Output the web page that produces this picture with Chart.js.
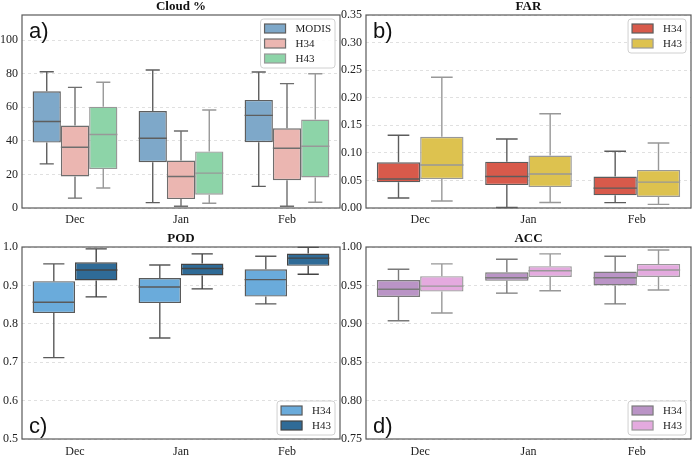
<!DOCTYPE html>
<html>
<head>
<meta charset="utf-8">
<script src="https://cdn.jsdelivr.net/npm/chart.js@4.4.1/dist/chart.umd.min.js"></script>
<style>
    body { margin: 0; background: #fff; width: 694px; height: 456px; position: relative; overflow: hidden; }
    canvas { position: absolute; }
</style>
</head>
<body>
<canvas id="chartCloud" width="344" height="228" style="left:0;top:0"></canvas>
<canvas id="chartFar" width="358" height="228" style="left:336px;top:0"></canvas>
<canvas id="chartPod" width="344" height="228" style="left:0;top:228px"></canvas>
<canvas id="chartAcc" width="358" height="228" style="left:336px;top:228px"></canvas>
<script>
// mesice na ose x
const months = ['Dec', 'Jan', 'Feb'];

// kazdy box: [dolni whisker, Q1, median, Q3, horni whisker] pro Dec, Jan, Feb
const cloudModis = [[26.3, 39.0, 51.5, 69.5, 81.2], [3.2, 27.3, 41.6, 57.8, 82.2], [12.9, 39.2, 55.2, 64.4, 81.0]];
const cloudH34 = [[5.9, 18.8, 36.2, 49.1, 71.9], [1.0, 5.3, 18.8, 28.3, 45.9], [1.0, 16.6, 35.6, 47.5, 74.1]];
const cloudH43 = [[11.9, 23.2, 43.8, 60.4, 74.9], [2.8, 7.9, 20.8, 33.7, 58.4], [3.4, 18.2, 36.8, 52.7, 80.0]];

const farH34 = [[0.018, 0.0465, 0.0525, 0.083, 0.132], [0.001, 0.0416, 0.057, 0.084, 0.125], [0.0097, 0.023, 0.036, 0.057, 0.103]];
const farH43 = [[0.0127, 0.0525, 0.078, 0.129, 0.237], [0.010, 0.038, 0.0616, 0.095, 0.171], [0.0066, 0.020, 0.047, 0.069, 0.118]];

const podH34 = [[0.712, 0.828, 0.856, 0.911, 0.956], [0.763, 0.854, 0.896, 0.919, 0.953], [0.852, 0.871, 0.915, 0.942, 0.976]];
const podH43 = [[0.870, 0.913, 0.940, 0.960, 0.995], [0.891, 0.926, 0.944, 0.957, 0.982], [0.929, 0.951, 0.971, 0.983, 0.999]];

const accH34 = [[0.904, 0.935, 0.945, 0.957, 0.971], [0.940, 0.956, 0.960, 0.967, 0.984], [0.926, 0.950, 0.960, 0.968, 0.988]];
const accH43 = [[0.914, 0.942, 0.949, 0.962, 0.978], [0.943, 0.961, 0.969, 0.975, 0.991], [0.944, 0.961, 0.970, 0.978, 0.996]];

// popisky na ose y
const cloudTicks = ['0', '20', '40', '60', '80', '100'];
const farTicks = ['0.00', '0.05', '0.10', '0.15', '0.20', '0.25', '0.30', '0.35'];
const podTicks = ['0.5', '0.6', '0.7', '0.8', '0.9', '1.0'];
const accTicks = ['0.75', '0.80', '0.85', '0.90', '0.95', '1.00'];

const SERIF = '"Liberation Serif", "Times New Roman", serif';

// Plugin, ktery dokresli whiskery a median ke kazdemu boxu (box samotny je plovouci bar)
const boxPlugin = {
    id: 'boxWhiskers',
    afterDatasetsDraw(chart) {
        const ctx = chart.ctx;
        const y = chart.scales.y;
        chart.data.datasets.forEach((ds, i) => {
            const meta = chart.getDatasetMeta(i);
            meta.data.forEach((bar, j) => {
                const s = ds.stats[j];
                const half = bar.width / 2;
                const cap = bar.width / 4;
                ctx.save();
                ctx.strokeStyle = ds.borderColor;
                ctx.lineWidth = 1.4;
                ctx.beginPath();
                // spodni whisker
                ctx.moveTo(bar.x, y.getPixelForValue(s[1]));
                ctx.lineTo(bar.x, y.getPixelForValue(s[0]));
                ctx.moveTo(bar.x - cap, y.getPixelForValue(s[0]));
                ctx.lineTo(bar.x + cap, y.getPixelForValue(s[0]));
                // horni whisker
                ctx.moveTo(bar.x, y.getPixelForValue(s[3]));
                ctx.lineTo(bar.x, y.getPixelForValue(s[4]));
                ctx.moveTo(bar.x - cap, y.getPixelForValue(s[4]));
                ctx.lineTo(bar.x + cap, y.getPixelForValue(s[4]));
                // median
                ctx.moveTo(bar.x - half, y.getPixelForValue(s[2]));
                ctx.lineTo(bar.x + half, y.getPixelForValue(s[2]));
                ctx.stroke();
                ctx.restore();
            });
        });
    }
};

// Plugin pro ramecek, titulek, oznaceni panelu a legendu uvnitr grafu
const panelPlugin = {
    id: 'panel',
    afterDraw(chart, args, opts) {
        const ctx = chart.ctx;
        const ca = chart.chartArea;
        ctx.save();

        // ramecek kolem plochy grafu
        ctx.strokeStyle = '#5a5a5a';
        ctx.lineWidth = 1.2;
        ctx.strokeRect(ca.left, ca.top, ca.right - ca.left, ca.bottom - ca.top);

        // titulek
        ctx.fillStyle = '#111';
        ctx.font = 'bold 13px ' + SERIF;
        ctx.textAlign = 'center';
        ctx.textBaseline = 'middle';
        ctx.fillText(opts.title, (ca.left + ca.right) / 2, ca.top - 8);

        // oznaceni panelu a), b) ...
        ctx.font = '22px "Liberation Sans", Arial, sans-serif';
        ctx.textAlign = 'left';
        ctx.textBaseline = 'alphabetic';
        ctx.fillText(opts.tag, ca.left + 7, opts.bottom ? ca.bottom - 6 : ca.top + 23);

        // legenda
        const sets = chart.data.datasets;
        ctx.font = '11px ' + SERIF;
        let tw = 0;
        sets.forEach(ds => { tw = Math.max(tw, ctx.measureText(ds.label).width); });
        const w = 4 + 21 + 10 + tw + 4;
        const h = sets.length * 15 + 4;
        const right = ca.right - 5;
        const top = opts.bottom ? ca.bottom - 4 - h : ca.top + 4;
        const left = right - w;

        ctx.beginPath();
        ctx.roundRect(left, top, w, h, 3);
        ctx.fillStyle = 'rgba(255,255,255,0.85)';
        ctx.fill();
        ctx.strokeStyle = '#d0d0d0';
        ctx.lineWidth = 1;
        ctx.stroke();

        sets.forEach((ds, i) => {
            const cy = top + 9.5 + i * 15;
            ctx.fillStyle = ds.backgroundColor;
            ctx.fillRect(left + 4, cy - 4.5, 21, 9);
            ctx.strokeStyle = ds.borderColor;
            ctx.lineWidth = 1.2;
            ctx.strokeRect(left + 4, cy - 4.5, 21, 9);
            ctx.fillStyle = '#222';
            ctx.textBaseline = 'middle';
            ctx.fillText(ds.label, left + 35, cy + 0.5);
        });

        ctx.restore();
    }
};

function CreateBoxChart(canvasId, cfg) {
    let datasets = cfg.series.map(serie => ({
        label: serie.label,
        data: serie.stats.map(s => [s[1], s[3]]), // box od Q1 do Q3
        stats: serie.stats,
        backgroundColor: serie.color,
        borderColor: serie.edge,
        borderWidth: 1.4,
        borderSkipped: false,
        categoryPercentage: 0.8,
        barPercentage: 1.0
    }));

    let tickValues = cfg.ticks.map(Number);

    return new Chart(document.getElementById(canvasId), {
        type: 'bar',
        data: { labels: months, datasets: datasets },
        plugins: [boxPlugin, panelPlugin],
        options: {
            responsive: false,
            animation: false,
            layout: { padding: { top: cfg.padTop, right: cfg.padRight, left: 0, bottom: 0 } },
            plugins: {
                legend: { display: false },
                tooltip: { enabled: false },
                panel: { title: cfg.title, tag: cfg.tag, bottom: cfg.legendBottom }
            },
            scales: {
                x: {
                    grid: { display: false, drawTicks: false },
                    border: { display: false },
                    ticks: { color: '#222', font: { family: SERIF, size: 12 }, padding: cfg.xPad },
                    afterFit: s => { s.height = cfg.xHeight; }
                },
                y: {
                    min: cfg.min,
                    max: cfg.max,
                    border: { display: false, dash: [3, 3] },
                    grid: { color: '#d9d9d9', lineWidth: 0.8, drawTicks: false },
                    ticks: {
                        color: '#222',
                        font: { family: SERIF, size: 12 },
                        padding: 4,
                        callback: (v, i) => cfg.ticks[i]
                    },
                    afterBuildTicks: s => { s.ticks = tickValues.map(v => ({ value: v })); },
                    afterFit: s => { s.width = cfg.yWidth; }
                }
            }
        }
    });
}

CreateBoxChart('chartCloud', {
    title: 'Cloud %', tag: 'a)', legendBottom: false,
    min: 0, max: 115, ticks: cloudTicks,
    padTop: 15, padRight: 4, xHeight: 20, xPad: 5, yWidth: 22,
    series: [
        { label: 'MODIS', stats: cloudModis, color: '#7ea8c9', edge: '#5e5e5e' },
        { label: 'H34', stats: cloudH34, color: '#ebb6b1', edge: '#6e6e6e' },
        { label: 'H43', stats: cloudH43, color: '#8dd4a8', edge: '#989898' }
    ]
});

CreateBoxChart('chartFar', {
    title: 'FAR', tag: 'b)', legendBottom: false,
    min: 0, max: 0.35, ticks: farTicks,
    padTop: 15, padRight: 3, xHeight: 20, xPad: 5, yWidth: 30,
    series: [
        { label: 'H34', stats: farH34, color: '#d85a4b', edge: '#5c5c5c' },
        { label: 'H43', stats: farH43, color: '#ddc24f', edge: '#989898' }
    ]
});

CreateBoxChart('chartPod', {
    title: 'POD', tag: 'c)', legendBottom: true,
    min: 0.5, max: 1.0, ticks: podTicks,
    padTop: 19, padRight: 4, xHeight: 17, xPad: 6, yWidth: 22,
    series: [
        { label: 'H34', stats: podH34, color: '#6aabdb', edge: '#5a5a5a' },
        { label: 'H43', stats: podH43, color: '#2f6b97', edge: '#444444' }
    ]
});

CreateBoxChart('chartAcc', {
    title: 'ACC', tag: 'd)', legendBottom: true,
    min: 0.75, max: 1.0, ticks: accTicks,
    padTop: 19, padRight: 3, xHeight: 17, xPad: 6, yWidth: 30,
    series: [
        { label: 'H34', stats: accH34, color: '#ba94c6', edge: '#7a7a7a' },
        { label: 'H43', stats: accH43, color: '#e4aadf', edge: '#989898' }
    ]
});
</script>
</body>
</html>
